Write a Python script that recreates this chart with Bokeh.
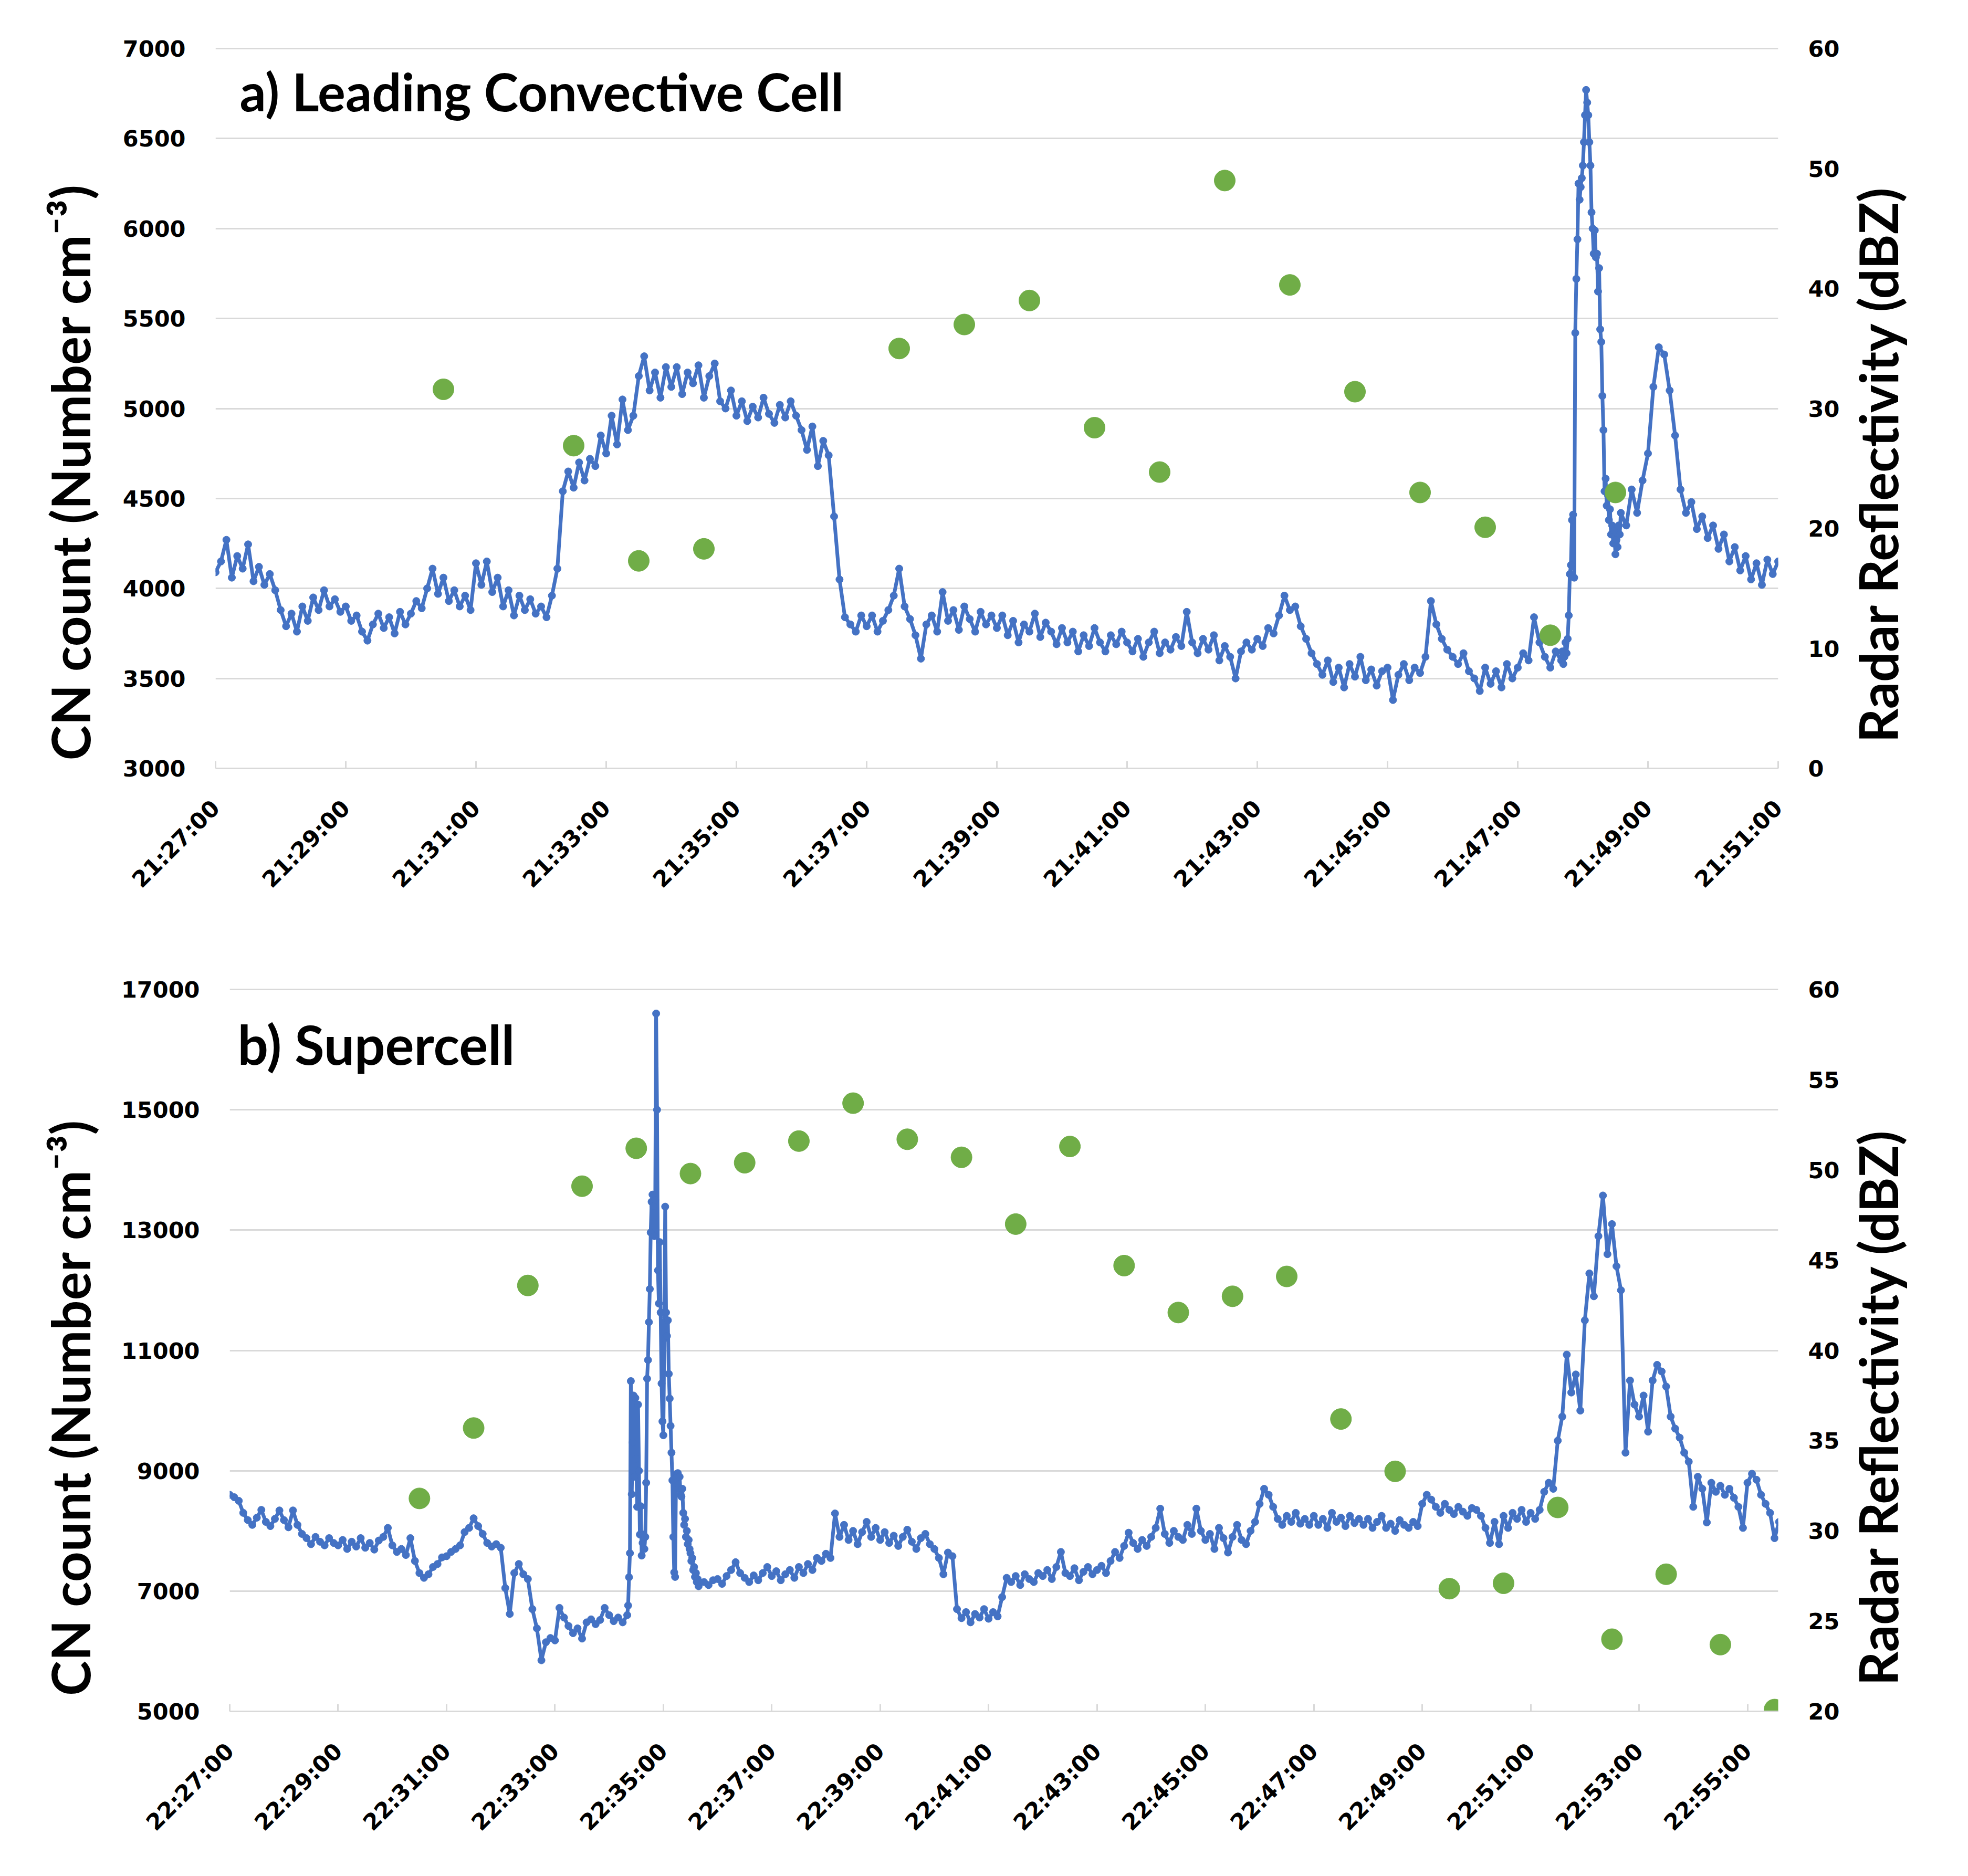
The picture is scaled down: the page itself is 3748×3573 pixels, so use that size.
import math
from datetime import datetime, timedelta
from bokeh.plotting import figure
from bokeh.models import Range1d, LinearAxis, FixedTicker, DatetimeTickFormatter, Label
from bokeh.embed import file_html
from bokeh.resources import INLINE

# ---------------- data ----------------
# Panel a: CN count, 5-s samples / 1-s burst / 5-s samples
cn_a_part1_start = "21:27:00"
cn_a_part1 = [
    4090, 4150, 4270, 4060, 4180, 4110, 4245, 4040, 4120, 4020, 4080, 3990,
    3880, 3790, 3860, 3760, 3900, 3820, 3950, 3880, 3990, 3900, 3940, 3870,
    3900, 3820, 3850, 3760, 3710, 3800, 3860, 3780, 3840, 3750, 3870, 3800,
    3860, 3930, 3890, 4000, 4110, 3970, 4060, 3930, 3990, 3900, 3960, 3880,
    4140, 4020, 4150, 3980, 4060, 3900, 3990, 3850, 3960, 3880, 3940, 3860,
    3900, 3840, 3960, 4110, 4540, 4650, 4560, 4700, 4600, 4720, 4680, 4850,
    4750, 4960, 4800, 5050, 4880, 4960, 5180, 5290, 5100, 5200, 5060, 5230,
    5120, 5230, 5080, 5200, 5140, 5240, 5060, 5180, 5250, 5040, 5000, 5100,
    4960, 5040, 4930, 5010, 4950, 5060, 4970, 4920, 5020, 4950, 5040, 4960,
    4880, 4770, 4900, 4680, 4820, 4740, 4400, 4050, 3840, 3800, 3760, 3850,
    3790, 3850, 3760, 3820, 3880, 3960, 4110, 3900, 3830, 3740, 3610, 3800,
    3850, 3760, 3980, 3820, 3880, 3770, 3900, 3830, 3760, 3870, 3800, 3850,
    3780, 3850, 3740, 3820, 3700, 3800, 3760, 3860, 3730, 3810, 3760, 3690,
    3780, 3700, 3760, 3650, 3740, 3680, 3780, 3700, 3650, 3740, 3690, 3760,
    3700, 3650, 3720, 3620, 3700, 3760, 3640, 3700, 3660, 3730, 3680, 3870,
    3700, 3640, 3720, 3660, 3740, 3600, 3680, 3620, 3500, 3650, 3700, 3660,
    3720, 3680, 3780, 3750, 3850, 3960, 3880, 3900, 3790, 3720, 3640, 3580,
    3520, 3600, 3480, 3560, 3450, 3580, 3510, 3620, 3490, 3550, 3460, 3540,
    3560, 3380, 3520, 3580, 3490, 3560, 3530, 3620, 3930, 3800, 3720, 3660,
    3620, 3580, 3640, 3540, 3500, 3430, 3560, 3470, 3540, 3450, 3580, 3500,
    3560, 3640, 3600, 3840, 3700, 3620, 3560, 3650,
]
cn_a_burst_start = "21:47:40"
cn_a_burst = [
    3600, 3650, 3580, 3620, 3700, 3640, 3720, 3850, 4080, 4130,
    4380, 4410, 4060, 5420, 5720, 5940, 6250, 6160, 6230, 6280,
    6350, 6480, 6630, 6770, 6700, 6630, 6480, 6350, 6090, 6000,
    5860, 5990, 5840, 5860, 5650, 5780, 5440, 5370, 5070, 4880,
    4540, 4610, 4460, 4520, 4380, 4440, 4300, 4350, 4250, 4320,
    4190, 4270, 4230, 4350, 4300, 4420,
]
cn_a_part2_start = "21:48:40"
cn_a_part2 = [
    4350, 4550, 4420, 4600,
    4750, 5120, 5340, 5300, 5100, 4850, 4550, 4420, 4480, 4330, 4400, 4280,
    4350, 4220, 4300, 4150, 4230, 4100, 4180, 4050, 4140, 4020, 4160, 4080,
    4150,
]
radar_a_time = ["21:30:30", "21:32:30", "21:33:30", "21:34:30", "21:37:30", "21:38:30",
                "21:39:30", "21:40:30", "21:41:30", "21:42:30", "21:43:30", "21:44:30",
                "21:45:30", "21:46:30", "21:47:30", "21:48:30"]
radar_a_dbz = [31.6, 26.9, 17.3, 18.3, 35.0, 37.0, 39.0, 28.4, 24.7, 49.0, 40.3, 31.4,
               23.0, 20.1, 11.1, 23.0]

# Panel b
cn_b_part1_start = "22:27:00"
cn_b_part1 = [
    8600, 8560, 8500, 8300, 8180, 8100, 8220, 8350, 8150, 8080, 8200, 8340,
    8180, 8060, 8340, 8100, 7950, 7880, 7780, 7900, 7820, 7760, 7880, 7800,
    7760, 7850, 7700, 7820, 7740, 7880, 7720, 7800, 7690, 7840, 7900, 8050,
    7760, 7650, 7700, 7600, 7880, 7500, 7300, 7220, 7280, 7400, 7450, 7560,
    7580, 7650, 7700, 7760, 7980, 8050, 8210, 8080, 7950, 7800, 7740, 7780,
    7720, 7050, 6620, 7300, 7450, 7280, 7200, 6700, 6380, 5850, 6150, 6220,
    6180, 6720, 6560, 6420, 6300, 6380, 6210, 6480, 6530, 6450, 6520, 6720,
    6600, 6500, 6560, 6480,
]
cn_b_burst_start = "22:34:20"
cn_b_burst = [
    6600, 6760, 7230, 7630, 10490, 8610, 9470, 10250, 8900, 10210,
    9200, 8400, 10100, 9000, 7940, 8410, 7590, 7800, 7940, 7700,
    7900, 8800, 10530, 10840, 11470, 12020, 12960, 13470, 13590, 13400,
    12900, 13500, 16600, 15000, 12330, 11780, 12800, 11630, 10450, 9820,
    9590, 11200, 13390, 11630, 11240, 11500, 10610, 10200, 9745, 9300,
    8840, 7900, 7310, 7235, 8880, 8950, 8960, 8700, 8900, 8600,
    8570, 8700, 8300, 8100, 8200, 7900, 8000, 7780, 7850, 7700,
    7630, 7500, 7550, 7350, 7400, 7235, 7300, 7150, 7200, 7080,
    7150,
]
cn_b_part2_start = "22:35:45"
cn_b_part2 = [
    7150, 7100, 7180,
    7200, 7120, 7250, 7350, 7480, 7300, 7220, 7150, 7260, 7180, 7300, 7400,
    7250, 7330, 7180, 7280, 7350, 7220, 7400, 7300, 7450, 7350, 7550, 7500,
    7620, 7550, 8290, 7900, 8100, 7850, 8000, 7780, 7980, 8150, 7900, 8050,
    7850, 7980, 7800, 7920, 7750, 7900, 8020, 7820, 7700, 7880, 7950, 7780,
    7700, 7550, 7280, 7640, 7580, 6700, 6550, 6650, 6480, 6620, 6560, 6700,
    6540, 6650, 6580, 6900, 7220, 7150, 7250, 7100, 7280, 7200, 7150, 7300,
    7250, 7350, 7200, 7400, 7650, 7300, 7250, 7380, 7180, 7320, 7400, 7280,
    7350, 7420, 7300, 7500, 7650, 7550, 7750, 7970, 7800, 7700, 7850, 7750,
    7900, 8050, 8370, 7950, 7800, 8000, 7900, 7850, 8100, 7950, 8370, 8000,
    7850, 7950, 7700, 8050, 7880, 7640, 7900, 8100, 7850, 7780, 8000, 8150,
    8450, 8700, 8600, 8400, 8200, 8100, 8250, 8150, 8300, 8120, 8200, 8100,
    8250, 8100, 8200, 8050, 8300, 8150, 8220, 8080, 8250, 8130, 8200, 8100,
    8200, 8050, 8150, 8250, 8050, 8120, 8000, 8180, 8100, 8050, 8150, 8080,
    8450, 8600, 8520, 8400, 8300, 8450, 8350, 8280, 8400, 8320, 8250, 8380,
    8350, 8250, 8050, 7800, 8150, 7780, 8250, 8050, 8300, 8200, 8350, 8150,
    8300, 8200, 8350, 8650, 8800, 8700, 9500, 9900, 10930, 10300, 10600, 10000,
    11500, 12280, 11900, 12900, 13575, 12600, 13100, 12400, 12000, 9300, 10500, 10100,
    9900, 10250, 9650, 10500, 10760, 10650, 10400, 9900, 9700, 9550, 9300, 9150,
    8400, 8900, 8700, 8140, 8800, 8650, 8750, 8600, 8700, 8550, 8400, 8050,
    8800, 8950, 8850, 8600, 8450, 8300, 7880, 8150,
]
radar_b_time = ["22:30:30", "22:31:30", "22:32:30", "22:33:30", "22:34:30", "22:35:30",
                "22:36:30", "22:37:30", "22:38:30", "22:39:30", "22:40:30", "22:41:30",
                "22:42:30", "22:43:30", "22:44:30", "22:45:30", "22:46:30", "22:47:30",
                "22:48:30", "22:49:30", "22:50:30", "22:51:30", "22:52:30", "22:53:30",
                "22:54:30", "22:55:30"]
radar_b_dbz = [31.8, 35.7, 43.6, 49.1, 51.2, 49.8, 50.4, 51.6, 53.7, 51.7, 50.7, 47.0,
               51.3, 44.7, 42.1, 43.0, 44.1, 36.2, 33.3, 26.8, 27.1, 31.3, 24.0, 27.6,
               23.7, 20.1]

cn_a_ticks = [3000, 3500, 4000, 4500, 5000, 5500, 6000, 6500, 7000]
dbz_a_ticks = [0, 10, 20, 30, 40, 50, 60]
cn_b_ticks = [5000, 7000, 9000, 11000, 13000, 15000, 17000]
dbz_b_ticks = [20, 25, 30, 35, 40, 45, 50, 55, 60]
time_a_ticks = ["21:27:00", "21:29:00", "21:31:00", "21:33:00", "21:35:00", "21:37:00",
                "21:39:00", "21:41:00", "21:43:00", "21:45:00", "21:47:00", "21:49:00", "21:51:00"]
time_b_ticks = ["22:27:00", "22:29:00", "22:31:00", "22:33:00", "22:35:00", "22:37:00",
                "22:39:00", "22:41:00", "22:43:00", "22:45:00", "22:47:00", "22:49:00",
                "22:51:00", "22:53:00", "22:55:00"]

title_a = "a) Leading Convective Cell"
title_b = "b) Supercell"
left_title = "CN count (Number cm\u207b\u00b3)"
right_title = "Radar Reflectivity (dBZ)"

# ---------------- helpers ----------------
EPOCH = datetime(1970, 1, 1)


def t(s):
    return datetime.strptime("2000-01-01 " + s, "%Y-%m-%d %H:%M:%S")


def ms(dt):
    return (dt - EPOCH).total_seconds() * 1000.0


def build(parts):
    xs, ys = [], []
    for start, step, vals in parts:
        t0 = t(start)
        for i, v in enumerate(vals):
            xs.append(t0 + timedelta(seconds=step * i))
            ys.append(v)
    return xs, ys


BLUE = "#4472C4"
GREEN = "#70AD47"
GRID = "#d9d9d9"
TICKFONT = "DejaVu Sans"
TITLEFONT = "Lato"
W = 3730
FRAME_RIGHT = 3386
PAD = 3
NBSP = "\u00a0"
# note: font sizes like "100px" are avoided (the svg backend reads them as a font weight)
AXIS_TITLE_SIZE = "101px"


def style_title(ax, text, standoff):
    ax.axis_label = text
    ax.axis_label_text_font = TITLEFONT
    ax.axis_label_text_font_style = "bold"
    ax.axis_label_text_font_size = AXIS_TITLE_SIZE
    ax.axis_label_text_color = "black"
    ax.axis_label_standoff = standoff


def set_right_title(ra, shift):
    """Bottom-to-top right title anchored near the bottom when the axis supports it,
    otherwise the default parallel label, moved down with leading no-break spaces."""
    applied = False
    for val in ("start", "left"):
        try:
            ra.axis_label_align = val
            applied = True
            break
        except Exception:
            continue
    if applied:
        ra.axis_label_orientation = math.pi / 2
        style_title(ra, NBSP * 2 + right_title, 70)
    else:
        style_title(ra, NBSP * shift + right_title, 60)


def style_value_axis(ax):
    ax.axis_line_color = None
    ax.major_tick_line_color = None
    ax.minor_tick_line_color = None
    ax.major_tick_in = 0
    ax.major_tick_out = 0
    ax.major_label_standoff = 57
    ax.major_label_text_font = TICKFONT
    ax.major_label_text_font_style = "bold"
    ax.major_label_text_font_size = "43px"
    ax.major_label_text_color = "black"


def make_panel(height, top, frame_h, left, xr, yr, yticks, rr, rticks, xticks,
               xs, ys, rx, ry, lstand, lshift, rshift):
    y_end = yr[1] + PAD * (yr[1] - yr[0]) / frame_h
    r_end = rr[1] + PAD * (rr[1] - rr[0]) / frame_h
    top -= PAD
    frame_h += PAD
    p = figure(width=W, height=height, x_axis_type="datetime",
               output_backend="svg", toolbar_location=None,
               x_range=Range1d(ms(t(xr[0])), ms(t(xr[1]))),
               y_range=Range1d(yr[0], y_end),
               min_border_left=left, min_border_right=W - FRAME_RIGHT,
               min_border_top=top, min_border_bottom=height - top - frame_h)
    p.outline_line_color = None
    p.background_fill_color = "white"
    p.border_fill_color = "white"
    p.extra_y_ranges = {"dbz": Range1d(rr[0], r_end)}

    p.xgrid.visible = False
    p.ygrid.grid_line_color = GRID
    p.ygrid.grid_line_width = 3

    xa = p.xaxis[0]
    xa.ticker = FixedTicker(ticks=[ms(t(s)) for s in xticks])
    xa.formatter = DatetimeTickFormatter(seconds="%H:%M:%S", minsec="%H:%M:%S",
                                         minutes="%H:%M:%S", hourmin="%H:%M:%S",
                                         hours="%H:%M:%S")
    xa.major_label_orientation = math.pi / 4
    xa.major_label_text_font = TICKFONT
    xa.major_label_text_font_style = "bold"
    xa.major_label_text_font_size = "43px"
    xa.major_label_text_color = "black"
    xa.major_label_standoff = 68
    xa.axis_line_color = GRID
    xa.axis_line_width = 3
    xa.major_tick_line_color = GRID
    xa.major_tick_line_width = 3
    xa.major_tick_in = 14
    xa.major_tick_out = 0
    xa.minor_tick_line_color = None

    ya = p.yaxis[0]
    ya.ticker = FixedTicker(ticks=yticks)
    style_value_axis(ya)
    # trailing no-break spaces move the centred text towards the bottom
    style_title(ya, left_title + NBSP * lshift, lstand)

    ra = LinearAxis(y_range_name="dbz", ticker=FixedTicker(ticks=rticks))
    style_value_axis(ra)
    set_right_title(ra, rshift)
    p.add_layout(ra, "right")

    p.line(xs, ys, line_color=BLUE, line_width=7)
    p.scatter(xs, ys, size=14, fill_color=BLUE, line_color=BLUE)
    p.scatter(rx, ry, y_range_name="dbz", size=40, fill_color=GREEN, line_color=GREEN)
    return p


def panel_title(p, x, y, text, size):
    p.add_layout(Label(x=x, y=y, x_units="screen", y_units="screen", text=text,
                       text_font=TITLEFONT, text_font_style="bold",
                       text_font_size=size, text_color="black",
                       text_align="left", text_baseline="alphabetic"))


xa_s, ya_s = build([(cn_a_part1_start, 5, cn_a_part1),
                    (cn_a_burst_start, 1, cn_a_burst),
                    (cn_a_part2_start, 5, cn_a_part2)])
xb_s, yb_s = build([(cn_b_part1_start, 5, cn_b_part1),
                    (cn_b_burst_start, 1, cn_b_burst),
                    (cn_b_part2_start, 5, cn_b_part2)])

pa = make_panel(1790, 92, 1371, 410, ("21:27:00", "21:51:00"), (3000, 7000), cn_a_ticks,
                (0, 60), dbz_a_ticks, time_a_ticks, xa_s, ya_s,
                [ms(t(s)) for s in radar_a_time], radar_a_dbz, 37, 10, 12)
pb = make_panel(1775, 94, 1375, 437, ("22:27:00", "22:55:34"), (5000, 17000), cn_b_ticks,
                (20, 60), dbz_b_ticks, time_b_ticks, xb_s, yb_s,
                [ms(t(s)) for s in radar_b_time], radar_b_dbz, 34, 9, 11)

panel_title(pa, 46, 1290, title_a, "99px")
panel_title(pb, 15, 1272, title_b, "103px")

open("out.html", "w").write(file_html([pa, pb], INLINE))
